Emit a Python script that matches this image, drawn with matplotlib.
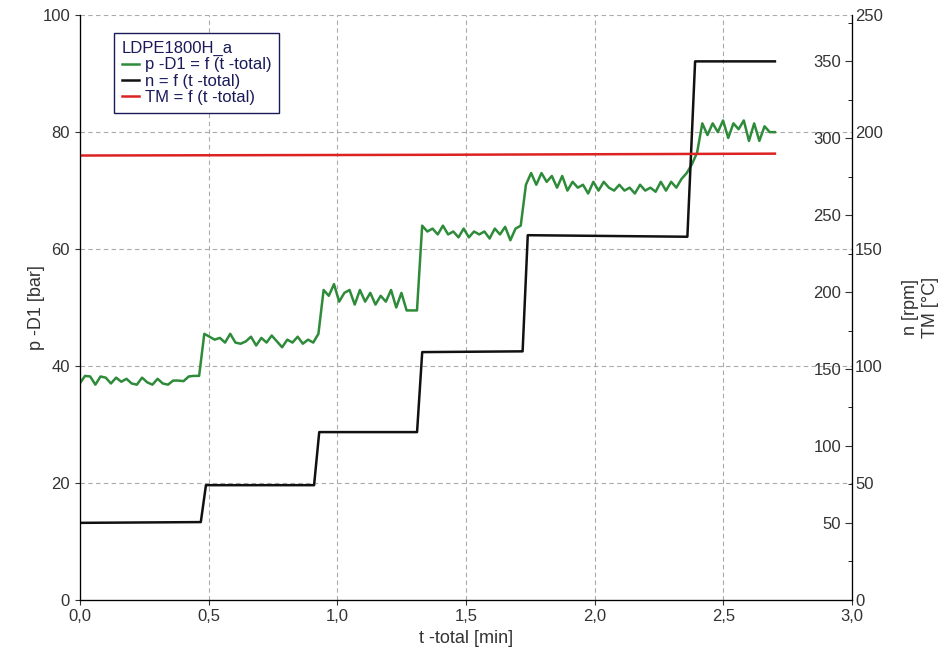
import numpy as np
import matplotlib
matplotlib.use("Agg")
import matplotlib.pyplot as plt
from matplotlib.ticker import MultipleLocator, FuncFormatter

plt.rcParams["font.family"] = "Liberation Sans"

p_d1 = [37,38.3,38.2,36.8,38.2,38,37,38,37.3,37.8,37,36.8,38,37.2,36.8,37.8,37,36.8,37.5,37.5,37.4,38.2,38.3,38.3,
        45.5,45,44.5,44.8,44,45.5,44,43.8,44.2,45,43.5,44.8,44,45.2,44.2,43.2,44.5,44,45,43.8,44.5,44,45.5,
        53,52,54,51,52.5,53,50.5,53,51,52.5,50.5,52,51,53,50,52.5,49.5,49.5,49.5,
        64,63,63.5,62.5,64,62.5,63,62,63.5,62,63,62.5,63,61.8,63.5,62.5,63.8,61.5,63.5,64,
        71,73,71,73,71.5,72.5,70.5,72.5,70,71.5,70.5,71,69.5,71.5,70,71.5,70.5,70,71,70,70.5,69.5,71,70,70.5,69.8,71.5,70,71.5,70.5,72,
        73,74.5,76.5,81.5,79.5,81.5,80,82,79,81.5,80.5,82,78.5,81.5,78.5,81,80,80]
t_p = np.linspace(0, 2.70, len(p_d1))

t_n = [0, 0.47, 0.49, 0.91, 0.93, 1.31, 1.33, 1.72, 1.74, 2.36, 2.39, 2.70]
n_rpm = [50, 50.5, 74.5, 74.5, 109, 109, 161, 161.5, 237, 236, 350, 350]

t_tm = [0, 1.35, 2.70]
tm = [190, 190.3, 190.8]

fig = plt.figure(figsize=(9.5, 6.62), dpi=100)
ax = fig.add_axes([0.084, 0.094, 0.813, 0.883])
ax.set_xlim(0, 3)
ax.set_ylim(0, 100)
ax.xaxis.set_major_locator(MultipleLocator(0.5))
ax.yaxis.set_major_locator(MultipleLocator(20))
ax.xaxis.set_major_formatter(FuncFormatter(lambda v, _: f"{v:.1f}".replace(".", ",")))
ax.grid(True, ls=(0, (4, 3)), color="#aaaaaa", lw=0.8)
ax.tick_params(labelsize=12, direction="out", colors="#333333")
ax.set_xlabel("t -total [min]", fontsize=13, color="#333333")
ax.set_ylabel("p -D1 [bar]", fontsize=13, labelpad=22, color="#333333")
ax.yaxis.set_label_coords(-0.045, 0.5)
ax.spines["top"].set_visible(False)

ax_n = ax.twinx()
ax_n.set_ylim(0, 380)
ax_n.set_yticks([50, 100, 150, 200, 250, 300, 350])
ax_n.yaxis.set_minor_locator(MultipleLocator(25))
ax_n.tick_params(axis="y", direction="in", pad=-8, labelsize=12, length=5, colors="#333333")
ax_n.tick_params(axis="y", which="minor", direction="in", length=3)
for lab in ax_n.get_yticklabels():
    lab.set_horizontalalignment("right")
ax_n.spines["top"].set_visible(False)

ax_t = ax.twinx()
ax_t.set_ylim(0, 250)
ax_t.yaxis.set_major_locator(MultipleLocator(50))
ax_t.tick_params(axis="y", direction="out", length=0, pad=2, labelsize=12, colors="#333333")
ax_t.spines["top"].set_visible(False)
ax_t.set_ylabel("n [rpm]\nTM [°C]", fontsize=13, labelpad=14, color="#333333")

l1, = ax.plot(t_p, p_d1, color="#2e8b3a", lw=1.8, label="p -D1 = f (t -total)")
l2, = ax_n.plot(t_n, n_rpm, color="#111111", lw=1.8, label="n = f (t -total)")
l3, = ax_t.plot(t_tm, tm, color="#dd2222", lw=1.8, label="TM = f (t -total)")

leg = ax_t.legend([l1, l2, l3], [l1.get_label(), l2.get_label(), l3.get_label()],
                  title="LDPE1800H_a", loc="upper left", bbox_to_anchor=(0.034, 0.983),
                  fontsize=12, title_fontsize=12, fancybox=False, framealpha=1,
                  edgecolor="#1a1a5a", handlelength=1.0, borderpad=0.45, labelspacing=0.08,
                  handletextpad=0.4)
leg._legend_box.align = "left"
for txt in leg.get_texts():
    txt.set_color("#1a1a5a")
leg.get_title().set_color("#1a1a5a")

fig.savefig("out.png", dpi=100)
